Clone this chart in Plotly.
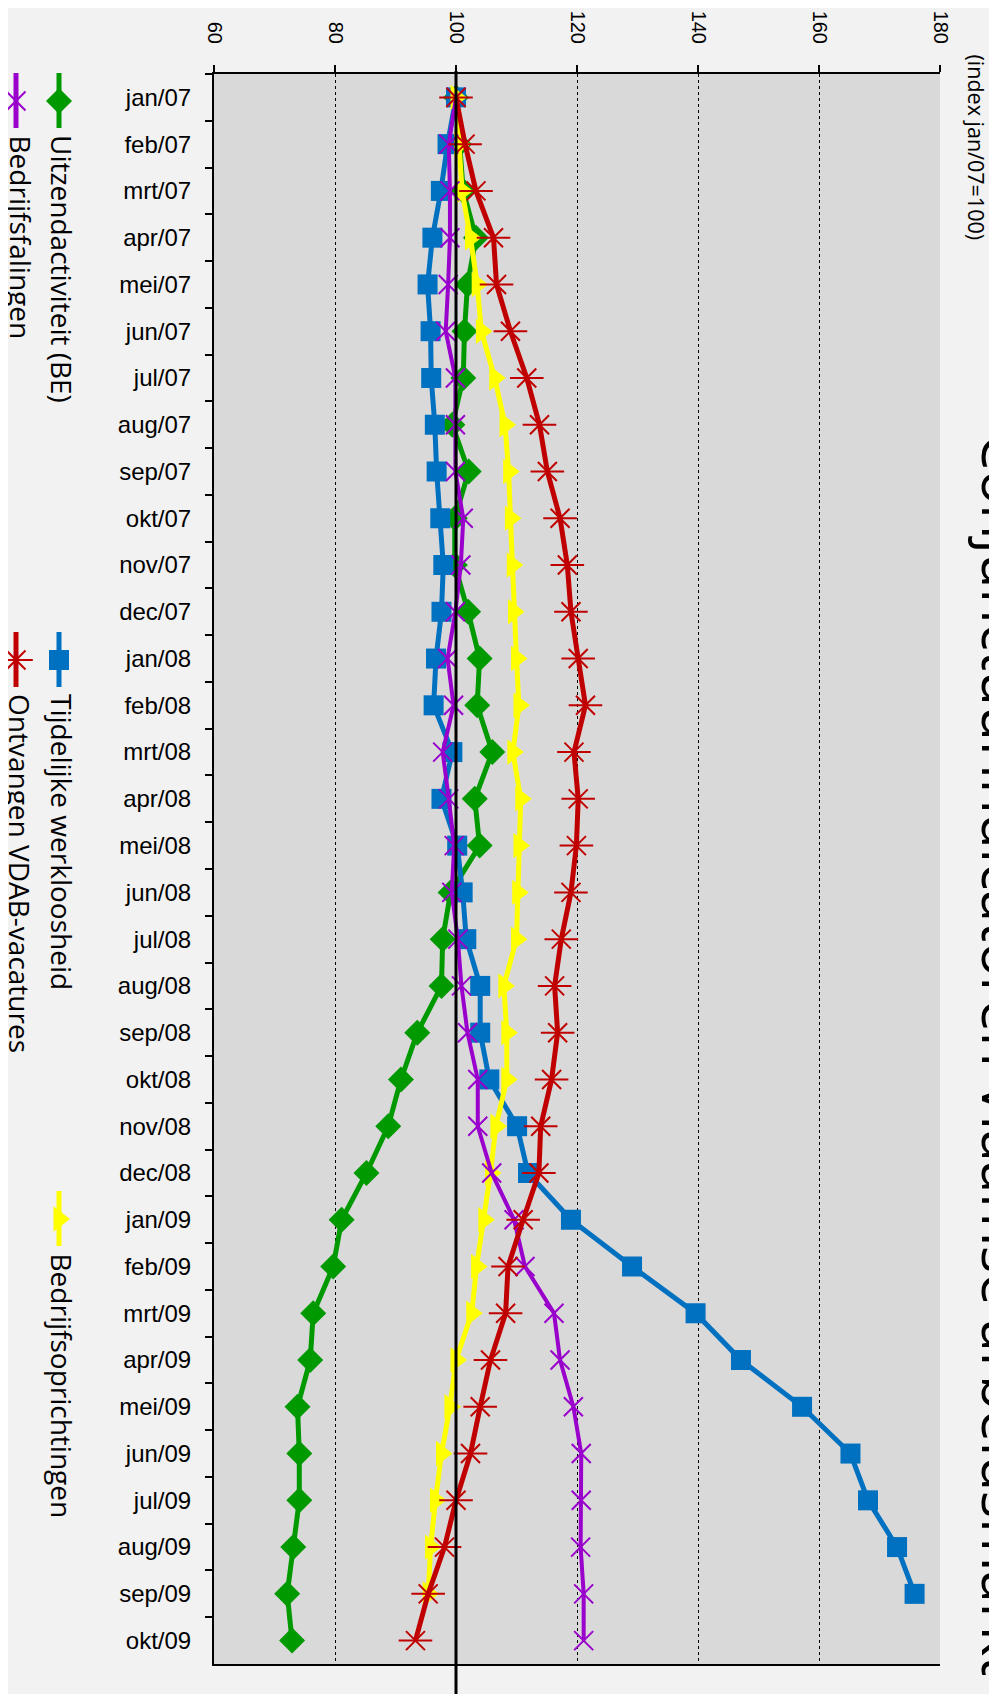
import plotly.graph_objects as go

months = ['jan/07', 'feb/07', 'mrt/07', 'apr/07', 'mei/07', 'jun/07', 'jul/07', 'aug/07',
          'sep/07', 'okt/07', 'nov/07', 'dec/07', 'jan/08', 'feb/08', 'mrt/08', 'apr/08',
          'mei/08', 'jun/08', 'jul/08', 'aug/08', 'sep/08', 'okt/08', 'nov/08', 'dec/08',
          'jan/09', 'feb/09', 'mrt/09', 'apr/09', 'mei/09', 'jun/09', 'jul/09', 'aug/09',
          'sep/09', 'okt/09']

uitzendactiviteit = [100, 100.5, 101.2, 103.3, 101.9, 101.4, 101.2, 99.4, 102.1, 99.8,
                     99.8, 102.0, 103.9, 103.5, 106.0, 103.1, 103.9, 99.1, 97.8, 97.6,
                     93.6, 90.9, 88.8, 85.2, 81.1, 79.7, 76.4, 75.9, 73.8, 74.1,
                     74.1, 73.1, 72.1, 72.9]

tijdelijke_werkloosheid = [100, 98.6, 97.5, 96.1, 95.3, 95.8, 95.9, 96.5, 96.8, 97.4,
                           97.9, 97.6, 96.7, 96.3, 99.4, 97.6, 100.2, 101.1, 101.7, 104.0,
                           104.0, 105.5, 110.1, 111.9, 119.0, 129.1, 139.6, 147.1, 157.2, 165.2,
                           168.1, 172.9, 175.8, None]

bedrijfsoprichtingen = [100, 100.6, 101.0, 102.4, 103.5, 104.2, 106.4, 108.1, 108.7, 109.0,
                        109.3, 109.5, 110.0, 110.4, 109.4, 110.7, 110.4, 110.2, 110.0, 107.9,
                        108.4, 108.4, 106.6, 105.7, 104.6, 103.4, 102.6, 100.0, 99.0, 97.6,
                        96.6, 95.8, 95.4, None]

bedrijfsfalingen = [100, 98.8, 99.0, 99.0, 98.7, 98.3, 99.9, 99.9, 99.9, 101.2,
                    100.8, 99.9, 98.6, 99.6, 97.8, 98.8, 99.7, 99.3, 100.3, 100.9,
                    101.9, 103.6, 103.6, 105.9, 109.6, 111.4, 116.2, 117.2, 119.4, 120.7,
                    120.7, 120.6, 121.1, 121.1]

vdab_vacatures = [100, 101.5, 103.3, 106.2, 106.7, 109.0, 111.7, 113.8, 115.1, 117.2,
                  118.4, 119.0, 120.2, 121.4, 119.5, 120.2, 119.9, 119.0, 117.4, 116.3,
                  116.8, 115.8, 114.0, 113.7, 111.1, 108.6, 108.2, 105.7, 104.0, 102.4,
                  100.0, 98.1, 95.4, 93.3]

value_ticks = [60, 80, 100, 120, 140, 160, 180]

title_text = 'Conjunctuurindicatoren Vlaamse arbeidsmarkt'
subtitle_text = '(index jan/07=100)'

# figure is placed by the page with an 8px body margin
W, H = 989, 1686
PL, PR, PT, PB = 206, 932, 66, 1656

GREEN = '#009900'
BLUE = '#0070C0'
YELLOW = '#FFFF00'
PURPLE = '#9900CC'
RED = '#C00000'

series = [
    dict(name='Uitzendactiviteit (BE)', y=uitzendactiviteit, color=GREEN,
         symbols=[('diamond', 20, 0)], lw=5),
    dict(name='Tijdelijke werkloosheid', y=tijdelijke_werkloosheid, color=BLUE,
         symbols=[('square', 20, 0)], lw=5),
    dict(name='Bedrijfsoprichtingen', y=bedrijfsoprichtingen, color=YELLOW,
         symbols=[('triangle-right', 22, 0)], lw=5),
    dict(name='Bedrijfsfalingen', y=bedrijfsfalingen, color=PURPLE,
         symbols=[('x-thin-open', 19, 2)], lw=4),
    dict(name='Ontvangen VDAB-vacatures', y=vdab_vacatures, color=RED,
         symbols=[('x-thin-open', 19, 2), ('line-ew-open', 24, 2)], lw=5),
]

fig = go.Figure()

for s in series:
    sym, size, mlw = s['symbols'][0]
    mk = dict(symbol=sym, size=size, color=s['color'])
    mk['line'] = dict(color=s['color'], width=mlw) if mlw else dict(width=0)
    fig.add_trace(go.Scatter(
        x=s['y'], y=months, mode='lines+markers', name=s['name'],
        line=dict(color=s['color'], width=s['lw']), marker=mk,
        xaxis='x', yaxis='y', showlegend=False, cliponaxis=False))
    for sym2, size2, mlw2 in s['symbols'][1:]:
        fig.add_trace(go.Scatter(
            x=s['y'], y=months, mode='markers',
            marker=dict(symbol=sym2, size=size2, color=s['color'],
                        line=dict(color=s['color'], width=mlw2)),
            xaxis='x', yaxis='y', showlegend=False, cliponaxis=False))

# legend drawn in a pixel-space overlay subplot (rotated layout)
legend_pos = [
    (0, 51, 54, 65, 'Uitzendactiviteit (BE)'),
    (1, 51, 54, 624, 'Tijdelijke werkloosheid'),
    (2, 51, 54, 1183, 'Bedrijfsoprichtingen'),
    (3, 8, 12.5, 65, 'Bedrijfsfalingen'),
    (4, 8, 12.5, 624, 'Ontvangen VDAB-vacatures'),
]
annotations = []
for idx, lx, tx, ly, label in legend_pos:
    s = series[idx]
    fig.add_trace(go.Scatter(
        x=[lx, lx], y=[ly, ly + 55], mode='lines',
        line=dict(color=s['color'], width=5), xaxis='x2', yaxis='y2',
        showlegend=False, hoverinfo='skip'))
    for sym, size, mlw in s['symbols']:
        mk = dict(symbol=sym, size=size, color=s['color'])
        mk['line'] = dict(color=s['color'], width=mlw) if mlw else dict(width=0)
        fig.add_trace(go.Scatter(
            x=[lx], y=[ly + 28], mode='markers', marker=mk,
            xaxis='x2', yaxis='y2', showlegend=False, hoverinfo='skip'))
    annotations.append(dict(
        text=label, textangle=90, xref='paper', yref='paper',
        x=tx / W, y=1 - (ly + 60) / H, xanchor='center', yanchor='top',
        showarrow=False, font=dict(family='Open Sans', size=28, color='black')))

annotations.append(dict(
    text=title_text, textangle=90, xref='paper', yref='paper',
    x=955 / W, y=1 - 1047 / H, xanchor='left', yanchor='middle',
    showarrow=False, font=dict(family='Open Sans', size=57, color='black')))
annotations.append(dict(
    text=subtitle_text, textangle=90, xref='paper', yref='paper',
    x=968.5 / W, y=1 - 44 / H, xanchor='center', yanchor='top',
    showarrow=False, font=dict(family='Open Sans', size=21.5, color='black')))

shapes = [
    dict(type='rect', xref='x domain', yref='y domain', x0=0, x1=1, y0=0, y1=1,
         fillcolor='#D9D9D9', line=dict(width=0), layer='below'),
    dict(type='line', xref='x', yref='paper', x0=100, x1=100, y0=0, y1=1 - 63 / H,
         line=dict(color='black', width=3), layer='above'),
]

fig.update_layout(
    width=W, height=H,
    autosize=False,
    margin=dict(l=0, r=0, t=0, b=0, pad=0, autoexpand=False),
    paper_bgcolor='#F2F2F2',
    plot_bgcolor='rgba(0,0,0,0)',
    showlegend=False,
    annotations=annotations,
    shapes=shapes,
    xaxis=dict(
        domain=[PL / W, PR / W], range=[60, 180], side='top', automargin=False,
        tickmode='array', tickvals=value_ticks, ticktext=[str(v) for v in value_ticks],
        tickangle=90, ticks='outside', ticklen=7, tickwidth=1.5, tickcolor='black',
        showline=True, linecolor='black', linewidth=2, mirror=True,
        showgrid=True, gridcolor='black', griddash='dot', gridwidth=1,
        zeroline=False, anchor='y', ticklabelstandoff=14,
        tickfont=dict(family='Liberation Sans, Arial', size=20, color='black')),
    yaxis=dict(
        domain=[1 - PB / H, 1 - PT / H], type='category', automargin=False,
        categoryorder='array', categoryarray=months,
        range=[len(months) - 0.5, -0.5], tickson='boundaries',
        ticks='outside', ticklen=7, tickwidth=1.5, tickcolor='black',
        showline=True, linecolor='black', linewidth=2,
        showgrid=False, zeroline=False, anchor='x', ticklabelstandoff=16,
        tickfont=dict(family='Liberation Sans, Arial', size=24, color='black')),
    xaxis2=dict(domain=[0, 1], range=[0, W], anchor='y2', visible=False,
                fixedrange=True, automargin=False),
    yaxis2=dict(domain=[0, 1], range=[H, 0], anchor='x2', visible=False,
                fixedrange=True, automargin=False),
)

fig.write_html('out.html')
